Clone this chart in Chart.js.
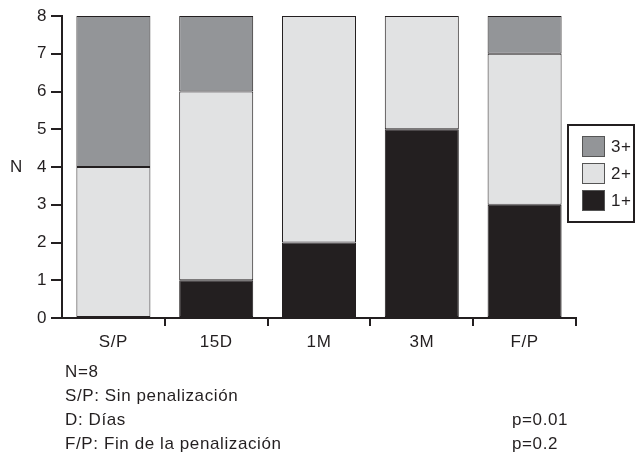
<!DOCTYPE html>
<html>
<head>
<meta charset="utf-8">
<script src="https://cdn.jsdelivr.net/npm/chart.js@4"></script>
<style>
  body { margin: 0; background: #fff; font-family: "Liberation Sans", Arial, sans-serif; }
  #wrap { position: relative; width: 643px; height: 463px; }
  .note { position: absolute; font-size: 17px; letter-spacing: 0.6px; color: #231f20; line-height: 17px; white-space: nowrap; }
</style>
</head>
<body>
<div id="wrap">
  <canvas id="chart"></canvas>
  <div class="note" style="left:65px; top:363px;">N=8</div>
  <div class="note" style="left:65px; top:387px;">S/P: Sin penalización</div>
  <div class="note" style="left:65px; top:411px;">D: Días</div>
  <div class="note" style="left:65px; top:435px;">F/P: Fin de la penalización</div>
  <div class="note" style="left:512px; top:411px;">p=0.01</div>
  <div class="note" style="left:512px; top:435px;">p=0.2</div>
</div>
<script>
const categories = ['S/P', '15D', '1M', '3M', 'F/P'];
const onePlus = [0, 1, 2, 5, 3];
const twoPlus = [4, 5, 6, 3, 4];
const threePlus = [4, 2, 0, 0, 1];
const yTicks = [0, 1, 2, 3, 4, 5, 6, 7, 8];

const ink = '#231f20';
const font = { family: 'Liberation Sans, Arial, sans-serif', size: 17 };

    // legend box, the "N" axis label and a touch of letter spacing
const extras = {
    id: 'extras',
    beforeDraw(chart) {
        chart.ctx.letterSpacing = '0.6px';
    },
    afterDraw(chart) {
        const c = chart.ctx;
        const y = chart.scales.y;
        c.save();
        c.fillStyle = ink;
        c.font = '17px Liberation Sans, Arial, sans-serif';
        c.textBaseline = 'middle';
        c.textAlign = 'left';
        c.fillText('N', 10, y.getPixelForValue(4));

        c.strokeStyle = ink;
        c.lineWidth = 2;
        c.strokeRect(568, 125, 66, 97);
        const rows = [2, 1, 0];
        rows.forEach((di, i) => {
            const ds = chart.data.datasets[di];
            const cy = 146 + i * 27;
            c.fillStyle = ds.backgroundColor;
            c.fillRect(582, cy - 10, 23, 21);
            c.lineWidth = 1;
            c.strokeStyle = '#555';
            c.strokeRect(582.5, cy - 9.5, 22, 20);
            c.fillStyle = ink;
            c.fillText(ds.label, 611, cy + 1);
        });
        c.restore();
    }
};

// zero counts get no bar at all (otherwise the border shows as a line)
const noZero = arr => arr.map(v => v === 0 ? null : v);

new Chart(document.getElementById('chart'), {
    type: 'bar',
    data: {
        labels: categories,
        datasets: [
            { label: '1+', data: noZero(onePlus), backgroundColor: ink },
            { label: '2+', data: noZero(twoPlus), backgroundColor: '#e1e2e3' },
            { label: '3+', data: noZero(threePlus), backgroundColor: '#939598' }
        ].map(d => Object.assign(d, {
            borderColor: ink,
            borderWidth: 1,
            borderSkipped: false,
            barPercentage: 0.72,
            categoryPercentage: 1
        }))
    },
    options: {
        responsive: true,
        maintainAspectRatio: false,
        animation: false,
        layout: { padding: { top: 16, right: 67, bottom: 113, left: 0 } },
        plugins: { legend: { display: false }, tooltip: { enabled: false } },
        scales: {
            x: {
                stacked: true,
                afterFit: s => { s.height = 32; },
                border: { color: ink, width: 2 },
                grid: {
                    drawOnChartArea: false,
                    tickLength: 8,
                    lineWidth: 2,
                    color: ctx => ctx.index === 0 ? 'rgba(0,0,0,0)' : ink
                },
                ticks: { color: ink, font: font, padding: 6 }
            },
            y: {
                stacked: true,
                min: 0,
                max: 8,
                afterFit: s => { s.width = 62; },
                afterBuildTicks: s => { s.ticks = yTicks.map(v => ({ value: v })); },
                border: { color: ink, width: 2 },
                grid: { drawOnChartArea: false, tickLength: 11, lineWidth: 2, color: ink },
                ticks: { color: ink, font: font, padding: 4 }
            }
        }
    },
    plugins: [extras]
});
</script>
</body>
</html>
